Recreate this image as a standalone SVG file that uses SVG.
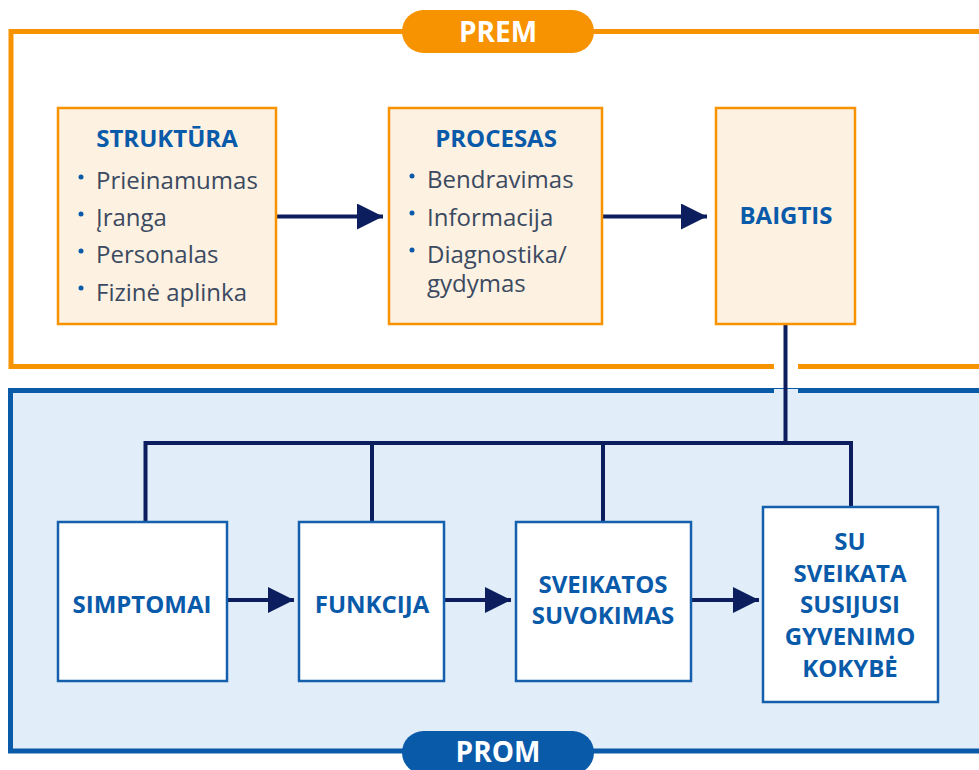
<svg xmlns="http://www.w3.org/2000/svg" width="979" height="770" viewBox="0 0 979 770">
<defs>
<style>
.frameO{fill:none;stroke:#F79200;stroke-width:5}
.frameB{fill:none;stroke:#0A5AAA;stroke-width:5}
.obox{fill:#FDF1E2;stroke:#F79200;stroke-width:2.5}
.bbox{fill:#FFFFFF;stroke:#1560AC;stroke-width:2.5}
.conn{fill:none;stroke:#0C1E5E;stroke-width:4}
.title{font-family:"Open Sans","Liberation Sans",sans-serif;font-weight:bold;font-size:24px;fill:#0A5AAA;text-anchor:middle}
.item{font-family:"Open Sans","Liberation Sans",sans-serif;font-size:24px;fill:#3B4A60}
.dot{fill:#0A5AAA}
.pill{font-family:"Open Sans","Liberation Sans",sans-serif;font-weight:bold;font-size:28px;fill:#FFFFFF;text-anchor:middle}
</style>
<marker id="ah" viewBox="0 0 26 26" refX="26" refY="13" markerWidth="26" markerHeight="26" markerUnits="userSpaceOnUse" orient="auto">
<path d="M0,0 L26,13 L0,26 Z" fill="#0C1E5E"/>
</marker>
</defs>
<rect x="0" y="0" width="979" height="770" fill="#FFFFFF"/>
<g id="frame-prem">
<path class="frameO" d="M979,31.5 H11 V366.5 H774 M798,366.5 H979"/>
<rect x="402" y="10" width="192" height="43" rx="21.5" fill="#F79200"/>
<text class="pill" x="498" y="41.5">PREM</text>
</g>
<g id="frame-prom">
<rect x="10" y="388" width="969" height="363" fill="#E1EDF8"/>
<line x1="774" y1="388.5" x2="798" y2="388.5" stroke="#0A5AAA" stroke-width="1"/>
<path class="frameB" d="M774,390.5 H10.5 V751 H979 M798,390.5 H979"/>
</g>
<g id="connectors">
<path class="conn" marker-end="url(#ah)" d="M277,216.5 H383"/>
<path class="conn" marker-end="url(#ah)" d="M603,216.5 H707"/>
<path class="conn" d="M785.5,324 V443 M145.5,522 V443 H851 V507 M372,443 V522 M603,443 V522"/>
<path class="conn" marker-end="url(#ah)" d="M227,600 H294"/>
<path class="conn" marker-end="url(#ah)" d="M444,600 H511"/>
<path class="conn" marker-end="url(#ah)" d="M691,600 H759"/>
</g>
<g id="struktura">
<rect class="obox" x="58" y="108" width="218" height="216"/>
<text class="title" x="167" y="146.5">STRUKTŪRA</text>
<circle class="dot" cx="81" cy="177" r="2.5"/>
<circle class="dot" cx="81" cy="214" r="2.5"/>
<circle class="dot" cx="81" cy="251" r="2.5"/>
<circle class="dot" cx="81" cy="288" r="2.5"/>
<text class="item" x="96" y="189">Prieinamumas</text>
<text class="item" x="96" y="226">Įranga</text>
<text class="item" x="96" y="263">Personalas</text>
<text class="item" x="96" y="300.5">Fizinė aplinka</text>
</g>
<g id="procesas">
<rect class="obox" x="389" y="108" width="213" height="216"/>
<text class="title" x="496" y="146.5">PROCESAS</text>
<circle class="dot" cx="412" cy="176" r="2.5"/>
<circle class="dot" cx="412" cy="213" r="2.5"/>
<circle class="dot" cx="412" cy="250" r="2.5"/>
<text class="item" x="427" y="188">Bendravimas</text>
<text class="item" x="427" y="225.5">Informacija</text>
<text class="item" x="427" y="263">Diagnostika/</text>
<text class="item" x="427" y="292">gydymas</text>
</g>
<g id="baigtis">
<rect class="obox" x="716" y="108" width="139" height="216"/>
<text class="title" x="786" y="224">BAIGTIS</text>
</g>
<g id="simptomai">
<rect class="bbox" x="58" y="522" width="169" height="159"/>
<text class="title" x="142" y="612.5">SIMPTOMAI</text>
</g>
<g id="funkcija">
<rect class="bbox" x="299" y="522" width="145" height="159"/>
<text class="title" x="372" y="612.5">FUNKCIJA</text>
</g>
<g id="sveikatos">
<rect class="bbox" x="516" y="522" width="175" height="159"/>
<text class="title" x="603" y="592.5">SVEIKATOS</text>
<text class="title" x="603" y="624">SUVOKIMAS</text>
</g>
<g id="gyvenimo">
<rect class="bbox" x="763" y="507" width="175" height="195"/>
<text class="title" x="850" y="550">SU</text>
<text class="title" x="850" y="581.7">SVEIKATA</text>
<text class="title" x="850" y="613.4">SUSIJUSI</text>
<text class="title" x="850" y="645.4">GYVENIMO</text>
<text class="title" x="850" y="677.2">KOKYBĖ</text>
</g>
<g id="prom-label">
<rect x="402" y="731" width="192" height="43" rx="21.5" fill="#0A5AAA"/>
<text class="pill" x="498" y="762">PROM</text>
</g>
</svg>
